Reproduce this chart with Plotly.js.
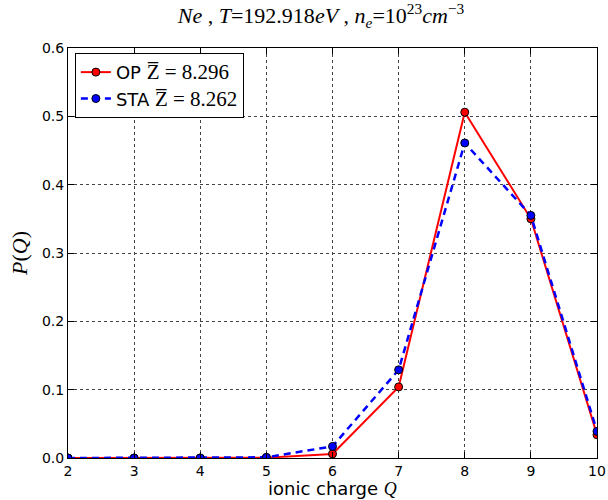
<!DOCTYPE html>
<html>
<head>
<meta charset="utf-8">
<script src="https://cdn.plot.ly/plotly-3.0.1.min.js"></script>
<style>html,body{margin:0;padding:0;background:#fff;}#chart{width:608px;height:500px;}</style>
</head>
<body>
<div id="chart"></div>
<script>
const charges = [2, 3, 4, 5, 6, 7, 8, 9, 10];
const opValues = [0, 0, 0, 0.0005, 0.006, 0.104, 0.506, 0.350, 0.034];
const staValues = [0, 0, 0, 0.001, 0.017, 0.129, 0.461, 0.355, 0.039];
const opName = 'OP <span style="font-family:Liberation Serif;font-size:21px">Z&#773; = 8.296</span>';
const staName = 'STA <span style="font-family:Liberation Serif;font-size:21px">Z&#773; = 8.262</span>';
const xTicks = [2, 3, 4, 5, 6, 7, 8, 9, 10];
const yTicks = [0, 0.1, 0.2, 0.3, 0.4, 0.5, 0.6];
const xTitle = 'ionic charge <i style="font-family:Liberation Serif">Q</i>';

const traces = [
  {x: charges, y: opValues, name: opName, type: 'scatter', mode: 'lines+markers',
   line: {color: '#ff0000', width: 2},
   marker: {color: '#ff0000', size: 8, line: {color: '#000', width: 1}}},
  {x: charges, y: staValues, name: staName, type: 'scatter', mode: 'lines+markers',
   line: {color: '#0000ff', width: 2.5, dash: '7px,5px'},
   marker: {color: '#0000ff', size: 8, line: {color: '#000', width: 1}}}
];

const layout = {
  width: 608, height: 500,
  margin: {l: 68, r: 11, t: 48, b: 42},
  paper_bgcolor: '#fff', plot_bgcolor: '#fff',
  font: {family: 'DejaVu Sans', size: 14, color: '#000'},
  title: {text: '<i>Ne</i> , <i>T</i>=192.918<i>eV</i> , <i>n</i><sub><i>e</i></sub>=10<sup>23</sup><i>cm</i><sup>−3</sup>',
    font: {family: 'Liberation Serif', size: 22}, x: 0.528, xanchor: 'center', y: 0.985, yanchor: 'top'},
  xaxis: {range: [2, 10], tickvals: xTicks, ticktext: xTicks.map(String),
    showline: true, linecolor: '#000', linewidth: 1, mirror: 'ticks',
    ticks: 'inside', ticklen: 6, tickcolor: '#000',
    showgrid: true, gridcolor: '#444', griddash: 'dot', gridwidth: 1,
    zeroline: false, tickfont: {size: 14}},
  yaxis: {range: [0, 0.6], tickvals: yTicks, ticktext: yTicks.map(v => v.toFixed(1)),
    showline: true, linecolor: '#000', linewidth: 1, mirror: 'ticks',
    ticks: 'inside', ticklen: 6, tickcolor: '#000',
    showgrid: true, gridcolor: '#444', griddash: 'dot', gridwidth: 1,
    zeroline: false, tickfont: {size: 14},
    title: {text: '<i>P</i>(<i>Q</i>)', font: {family: 'Liberation Serif', size: 22}, standoff: 8}},
  annotations: [{text: xTitle, xref: 'paper', yref: 'paper', x: 0.5, y: -0.075,
    xanchor: 'center', yanchor: 'middle', showarrow: false, font: {size: 18}}],
  legend: {x: 0.013, y: 0.988, xanchor: 'left', yanchor: 'top',
    bordercolor: '#000', borderwidth: 1, bgcolor: '#fff',
    font: {size: 18}, tracegroupgap: 0, itemwidth: 30},
  showlegend: true
};

Plotly.newPlot('chart', traces, layout, {displayModeBar: false, staticPlot: true});
</script>
</body>
</html>
